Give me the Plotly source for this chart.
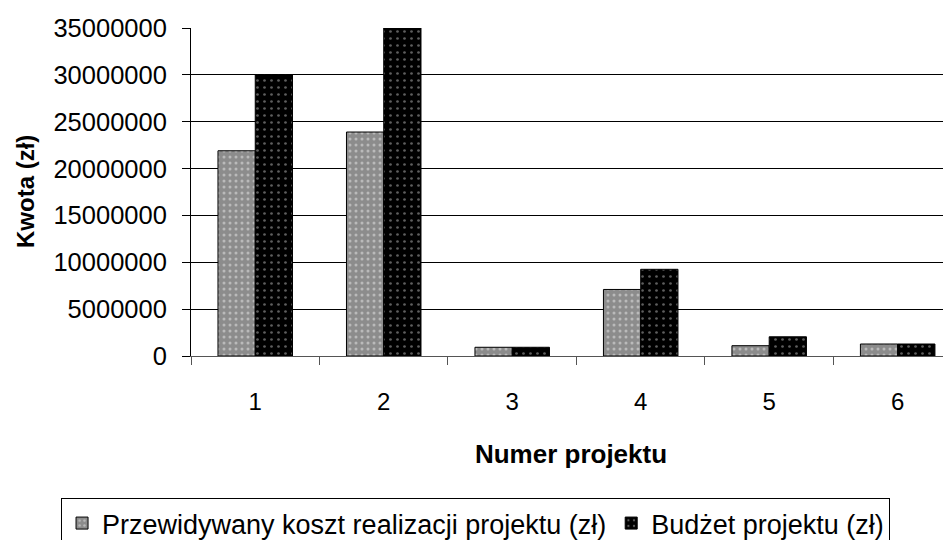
import plotly.graph_objects as go

categories = ["1", "2", "3", "4", "5", "6"]
koszt = [21.9e6, 23.9e6, 0.93e6, 7.1e6, 1.1e6, 1.28e6]
budzet = [30.0e6, 35.0e6, 0.93e6, 9.25e6, 2.05e6, 1.28e6]
y_ticks = [0, 5000000, 10000000, 15000000, 20000000, 25000000, 30000000, 35000000]
series_names = ["Przewidywany koszt realizacji projektu (zł)", "Budżet projektu (zł)"]
y_title = "Kwota (zł)"
x_title = "Numer projektu"

FONT = "Arial, Liberation Sans, sans-serif"

fig = go.Figure()
fig.add_trace(go.Bar(
    x=categories, y=koszt, name=series_names[0],
    marker=dict(color="#8c8c8c", line=dict(color="black", width=1),
                pattern=dict(shape=".", fgcolor="#e8e8e8", bgcolor="#8c8c8c", size=6, solidity=0.2)),
))
fig.add_trace(go.Bar(
    x=categories, y=budzet, name=series_names[1],
    marker=dict(color="black", line=dict(color="black", width=1),
                pattern=dict(shape=".", fgcolor="#bbbbbb", bgcolor="black", size=7, solidity=0.12)),
))

fig.update_layout(
    width=943, height=532,
    margin=dict(l=183, r=0, t=20, b=184, autoexpand=False),
    paper_bgcolor="white", plot_bgcolor="white",
    barmode="group", bargap=0.42, bargroupgap=0,
    font=dict(family=FONT, color="black", size=24),
    showlegend=True,
    legend=dict(orientation="h", x=-0.171, xanchor="left", y=-0.433, yanchor="top",
                bordercolor="black", borderwidth=1, font=dict(size=27),
                itemwidth=30, tracegroupgap=0),
    annotations=[dict(text="<b>" + y_title + "</b>", xref="paper", yref="paper",
                      x=0, y=0.5, xanchor="center", yanchor="middle",
                      xshift=-166, textangle=-90, showarrow=False,
                      font=dict(size=24, family=FONT, color="black"))],
)
fig.update_xaxes(
    type="category", range=[-0.5, 5.415],
    showline=True, linecolor="#555555", linewidth=1,
    ticks="outside", ticklen=8, tickcolor="#555555", tickson="boundaries",
    tickfont=dict(size=24), ticklabelstandoff=24,
    title=dict(text="<b>" + x_title + "</b>", font=dict(size=26), standoff=31),
    showgrid=False, zeroline=False,
)
fig.update_yaxes(
    range=[0, 35000000], tickvals=y_ticks, ticktext=[str(v) for v in y_ticks],
    showline=True, linecolor="black", linewidth=1,
    ticks="outside", ticklen=8, tickcolor="black",
    tickfont=dict(size=25.5), ticklabelstandoff=10,
    showgrid=True, gridcolor="black", gridwidth=1, zeroline=False,
)

fig.write_html("out.html")
